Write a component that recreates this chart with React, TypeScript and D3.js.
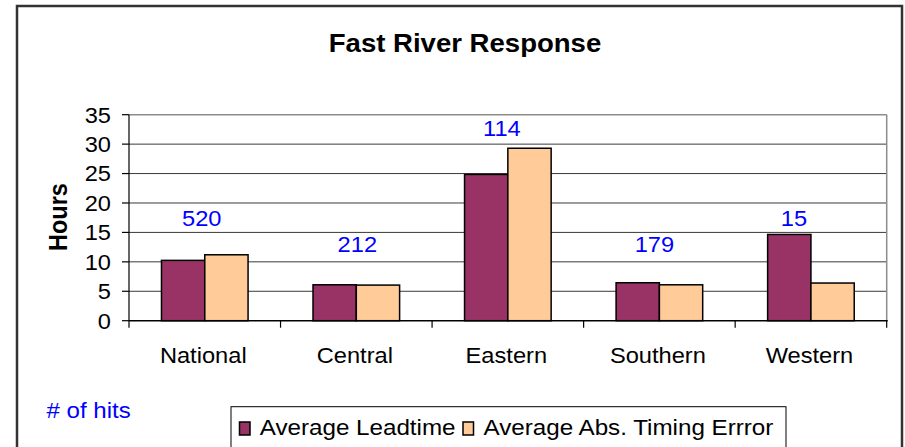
import React from "react";
import * as d3 from "d3";

// Regions and measured averages (hours)
const categories = ["National", "Central", "Eastern", "Southern", "Western"];
const avgLeadtime = [10.25, 6.1, 24.85, 6.45, 14.65];
const avgAbsTimingError = [11.2, 6.05, 29.3, 6.1, 6.4];
// Number of hits per region, and the height (hours) at which each count is written
const hits = [520, 212, 114, 179, 15];
const hitLabelHours = [16.1, 11.6, 31.3, 11.6, 16.1];
const yTicks = [0, 5, 10, 15, 20, 25, 30, 35];
const seriesNames = ["Average Leadtime", "Average Abs. Timing Errror"];

const W = 905;
const H = 447;
const FONT = "'Liberation Sans', Arial, sans-serif";
const COLORS = ["#993366", "#FFCC99"];

// small horizontal nudges for the hit-count labels (px)
const hitNudge = [-3, 1, -6, -5, -17];

function T(props: {
  x: number;
  y: number;
  size: number;
  anchor?: "start" | "middle" | "end";
  weight?: string;
  fill?: string;
  sx?: number;
  children: React.ReactNode;
}) {
  const { x, y, size, anchor = "start", weight = "normal", fill = "#000", sx = 1.1 } = props;
  return (
    <text
      transform={`translate(${x},${y}) scale(${sx},1)`}
      textAnchor={anchor}
      fontFamily={FONT}
      fontSize={size}
      fontWeight={weight}
      fill={fill}
    >
      {props.children}
    </text>
  );
}

export default function App() {
  const left = 129;
  const right = 886.7;
  const top = 114.7;
  const bottom = 320.7;

  const x = d3.scaleBand<string>().domain(categories).range([left, right]).padding(0);
  const xs = d3
    .scaleBand<number>()
    .domain([0, 1])
    .range([0, x.bandwidth()])
    .paddingInner(0)
    .paddingOuter(0.75);
  const y = d3.scaleLinear().domain([0, 35]).range([bottom, top]);

  const series = [avgLeadtime, avgAbsTimingError];
  const boundaries = d3.range(categories.length + 1).map((i) => left + i * x.step());

  return (
    <svg
      width={W}
      height={H}
      style={{ position: "absolute", left: 0, top: 0, background: "#fff" }}
    >
      <rect x={0} y={0} width={W} height={H} fill="#fff" />
      {/* chart frame */}
      <rect x={17} y={6} width={885} height={470} fill="none" stroke="#333" strokeWidth={2.5} />

      <T x={465} y={52} size={26} weight="bold" anchor="middle" sx={1.06}>
        Fast River Response
      </T>

      {/* gridlines */}
      {yTicks
        .filter((t) => t > 0 && t < 35)
        .map((t) => (
          <line key={t} x1={left} x2={right} y1={y(t)} y2={y(t)} stroke="#3a3a3a" strokeWidth={1} />
        ))}
      {/* plot area border (top / right) */}
      <line x1={left} x2={right} y1={y(35)} y2={y(35)} stroke="#8c8c8c" strokeWidth={1.5} />
      <line x1={right} x2={right} y1={top} y2={bottom} stroke="#8c8c8c" strokeWidth={1.5} />

      {/* bars */}
      {series.map((vals, si) =>
        vals.map((v, ci) => {
          const bx = (x(categories[ci]) as number) + (xs(si) as number);
          return (
            <rect
              key={`${si}-${ci}`}
              x={bx}
              y={y(v)}
              width={xs.bandwidth()}
              height={y(0) - y(v)}
              fill={COLORS[si]}
              stroke="#000"
              strokeWidth={1.5}
            />
          );
        })
      )}

      {/* y axis */}
      <line x1={left} x2={left} y1={top} y2={bottom} stroke="#000" strokeWidth={1.2} />
      {yTicks.map((t) => (
        <g key={t}>
          <line x1={left - 7} x2={left} y1={y(t)} y2={y(t)} stroke="#000" strokeWidth={1.2} />
          <T x={111} y={y(t) + 7.8} size={22.5} anchor="end" sx={1.05}>
            {t}
          </T>
        </g>
      ))}
      <g transform={`translate(67,217) scale(1.12,1) rotate(-90)`}>
        <text textAnchor="middle" fontFamily={FONT} fontSize={23.5} fontWeight="bold" fill="#000">
          Hours
        </text>
      </g>

      {/* x axis */}
      <line x1={left} x2={right + 1} y1={bottom} y2={bottom} stroke="#000" strokeWidth={1.5} />
      {boundaries.map((bx, i) => (
        <line key={i} x1={bx} x2={bx} y1={bottom} y2={bottom + 7} stroke="#000" strokeWidth={1.2} />
      ))}
      {categories.map((c) => (
        <T key={c} x={(x(c) as number) + x.bandwidth() / 2 - 1.5} y={362.5} size={21.5} anchor="middle">
          {c}
        </T>
      ))}

      {/* hit counts */}
      {hits.map((h, i) => (
        <T
          key={i}
          x={(x(categories[i]) as number) + x.bandwidth() / 2 + hitNudge[i]}
          y={y(hitLabelHours[i])}
          size={21.5}
          anchor="middle"
          fill="#0000FF"
        >
          {h}
        </T>
      ))}
      <T x={46.5} y={418.3} size={21.5} fill="#0000FF" sx={1.12}>
        # of hits
      </T>

      {/* legend */}
      <rect x={231} y={406.7} width={555} height={70} fill="#fff" stroke="#000" strokeWidth={1} />
      <rect x={239.5} y={422} width={10.5} height={13} fill={COLORS[0]} stroke="#000" strokeWidth={1.5} />
      <T x={259.7} y={435} size={22}>
        {seriesNames[0]}
      </T>
      <rect x={463} y={422} width={10.5} height={13} fill={COLORS[1]} stroke="#000" strokeWidth={1.5} />
      <T x={483.5} y={435} size={22}>
        {seriesNames[1]}
      </T>
    </svg>
  );
}
